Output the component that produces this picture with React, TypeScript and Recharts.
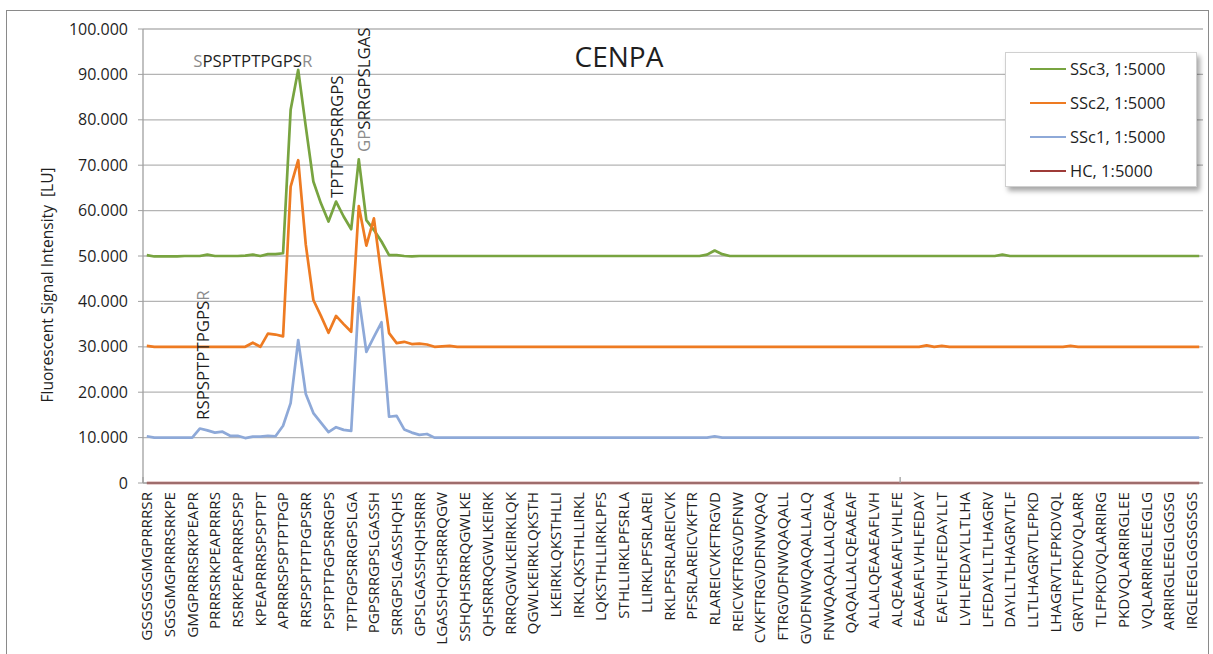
import React from "react";
import { LineChart, Line, XAxis, YAxis, CartesianGrid, ReferenceDot } from "recharts";

// Peptide labels shown on the x axis (every third peptide of the 140-peptide scan)
const TICK_LABELS = [
  "GSGSGSGMGPRRRSR", "SGSGMGPRRRSRKPE", "GMGPRRRSRKPEAPR", "PRRRSRKPEAPRRRS",
  "RSRKPEAPRRRSPSP", "KPEAPRRRSPSPTPT", "APRRRSPSPTPTPGP", "RRSPSPTPTPGPSRR",
  "PSPTPTPGPSRRGPS", "TPTPGPSRRGPSLGA", "PGPSRRGPSLGASSH", "SRRGPSLGASSHQHS",
  "GPSLGASSHQHSRRR", "LGASSHQHSRRRQGW", "SSHQHSRRRQGWLKE", "QHSRRRQGWLKEIRK",
  "RRRQGWLKEIRKLQK", "QGWLKEIRKLQKSTH", "LKEIRKLQKSTHLLI", "IRKLQKSTHLLIRKL",
  "LQKSTHLLIRKLPFS", "STHLLIRKLPFSRLA", "LLIRKLPFSRLAREI", "RKLPFSRLAREICVK",
  "PFSRLAREICVKFTR", "RLAREICVKFTRGVD", "REICVKFTRGVDFNW", "CVKFTRGVDFNWQAQ",
  "FTRGVDFNWQAQALL", "GVDFNWQAQALLALQ", "FNWQAQALLALQEAA", "QAQALLALQEAAEAF",
  "ALLALQEAAEAFLVH", "ALQEAAEAFLVHLFE", "EAAEAFLVHLFEDAY", "EAFLVHLFEDAYLLT",
  "LVHLFEDAYLLTLHA", "LFEDAYLLTLHAGRV", "DAYLLTLHAGRVTLF", "LLTLHAGRVTLFPKD",
  "LHAGRVTLFPKDVQL", "GRVTLFPKDVQLARR", "TLFPKDVQLARRIRG", "PKDVQLARRIRGLEE",
  "VQLARRIRGLEEGLG", "ARRIRGLEEGLGGSG", "IRGLEEGLGGSGSGS",
];

// Y-axis tick values (in thousands of LU; shown as "10.000" etc.)
const Y_TICKS = [0, 10, 20, 30, 40, 50, 60, 70, 80, 90, 100];

// Series values per peptide (140 peptides), in thousands of LU
const SSC3 = [
  50.2, 49.9, 49.9, 49.9, 49.9, 50.0, 50.0, 50.0, 50.3, 50.0,
  50.0, 50.0, 50.0, 50.1, 50.3, 50.0, 50.4, 50.4, 50.6, 82.2,
  91.0, 78.5, 66.4, 61.6, 57.6, 62.0, 58.7, 55.9, 71.3, 57.9,
  55.7, 53.2, 50.2, 50.2, 50.0, 49.9, 50.0, 50.0, 50.0, 50.0,
  50.0, 50.0, 50.0, 50.0, 50.0, 50.0, 50.0, 50.0, 50.0, 50.0,
  50.0, 50.0, 50.0, 50.0, 50.0, 50.0, 50.0, 50.0, 50.0, 50.0,
  50.0, 50.0, 50.0, 50.0, 50.0, 50.0, 50.0, 50.0, 50.0, 50.0,
  50.0, 50.0, 50.0, 50.0, 50.3, 51.2, 50.4, 50.0, 50.0, 50.0,
  50.0, 50.0, 50.0, 50.0, 50.0, 50.0, 50.0, 50.0, 50.0, 50.0,
  50.0, 50.0, 50.0, 50.0, 50.0, 50.0, 50.0, 50.0, 50.0, 50.0,
  50.0, 50.0, 50.0, 50.0, 50.0, 50.0, 50.0, 50.0, 50.0, 50.0,
  50.0, 50.0, 50.0, 50.3, 50.0, 50.0, 50.0, 50.0, 50.0, 50.0,
  50.0, 50.0, 50.0, 50.0, 50.0, 50.0, 50.0, 50.0, 50.0, 50.0,
  50.0, 50.0, 50.0, 50.0, 50.0, 50.0, 50.0, 50.0, 50.0, 50.0,
];

const SSC2 = [
  30.2, 30.0, 30.0, 30.0, 30.0, 30.0, 30.0, 30.0, 30.0, 30.0,
  30.0, 30.0, 30.0, 30.0, 30.9, 30.0, 32.9, 32.7, 32.3, 65.3,
  71.1, 52.5, 40.3, 36.8, 33.1, 36.8, 35.0, 33.3, 61.0, 52.3,
  58.3, 45.5, 33.0, 30.8, 31.1, 30.6, 30.7, 30.5, 30.0, 30.1,
  30.2, 30.0, 30.0, 30.0, 30.0, 30.0, 30.0, 30.0, 30.0, 30.0,
  30.0, 30.0, 30.0, 30.0, 30.0, 30.0, 30.0, 30.0, 30.0, 30.0,
  30.0, 30.0, 30.0, 30.0, 30.0, 30.0, 30.0, 30.0, 30.0, 30.0,
  30.0, 30.0, 30.0, 30.0, 30.0, 30.0, 30.0, 30.0, 30.0, 30.0,
  30.0, 30.0, 30.0, 30.0, 30.0, 30.0, 30.0, 30.0, 30.0, 30.0,
  30.0, 30.0, 30.0, 30.0, 30.0, 30.0, 30.0, 30.0, 30.0, 30.0,
  30.0, 30.0, 30.0, 30.3, 30.0, 30.2, 30.0, 30.0, 30.0, 30.0,
  30.0, 30.0, 30.0, 30.0, 30.0, 30.0, 30.0, 30.0, 30.0, 30.0,
  30.0, 30.0, 30.2, 30.0, 30.0, 30.0, 30.0, 30.0, 30.0, 30.0,
  30.0, 30.0, 30.0, 30.0, 30.0, 30.0, 30.0, 30.0, 30.0, 30.0,
];

const SSC1 = [
  10.3, 10.0, 10.0, 10.0, 10.0, 10.0, 10.0, 12.0, 11.6, 11.1,
  11.3, 10.4, 10.4, 9.9, 10.2, 10.2, 10.4, 10.3, 12.6, 17.6,
  31.5, 19.6, 15.4, 13.3, 11.2, 12.3, 11.7, 11.5, 40.9, 28.9,
  32.2, 35.4, 14.6, 14.8, 11.8, 11.1, 10.6, 10.8, 10.0, 10.0,
  10.0, 10.0, 10.0, 10.0, 10.0, 10.0, 10.0, 10.0, 10.0, 10.0,
  10.0, 10.0, 10.0, 10.0, 10.0, 10.0, 10.0, 10.0, 10.0, 10.0,
  10.0, 10.0, 10.0, 10.0, 10.0, 10.0, 10.0, 10.0, 10.0, 10.0,
  10.0, 10.0, 10.0, 10.0, 10.0, 10.3, 10.0, 10.0, 10.0, 10.0,
  10.0, 10.0, 10.0, 10.0, 10.0, 10.0, 10.0, 10.0, 10.0, 10.0,
  10.0, 10.0, 10.0, 10.0, 10.0, 10.0, 10.0, 10.0, 10.0, 10.0,
  10.0, 10.0, 10.0, 10.0, 10.0, 10.0, 10.0, 10.0, 10.0, 10.0,
  10.0, 10.0, 10.0, 10.0, 10.0, 10.0, 10.0, 10.0, 10.0, 10.0,
  10.0, 10.0, 10.0, 10.0, 10.0, 10.0, 10.0, 10.0, 10.0, 10.0,
  10.0, 10.0, 10.0, 10.0, 10.0, 10.0, 10.0, 10.0, 10.0, 10.0,
];

const HC = [
  0, 0, 0, 0, 0, 0, 0, 0, 0, 0,
  0, 0, 0, 0, 0, 0, 0, 0, 0, 0,
  0, 0, 0, 0, 0, 0, 0, 0, 0, 0,
  0, 0, 0, 0, 0, 0, 0, 0, 0, 0,
  0, 0, 0, 0, 0, 0, 0, 0, 0, 0,
  0, 0, 0, 0, 0, 0, 0, 0, 0, 0,
  0, 0, 0, 0, 0, 0, 0, 0, 0, 0,
  0, 0, 0, 0, 0, 0, 0, 0, 0, 0,
  0, 0, 0, 0, 0, 0, 0, 0, 0, 0,
  0, 0, 0, 0, 0, 0, 0, 0, 0, 0,
  0, 0, 0, 0, 0, 0, 0, 0, 0, 0,
  0, 0, 0, 0, 0, 0, 0, 0, 0, 0,
  0, 0, 0, 0, 0, 0, 0, 0, 0, 0,
  0, 0, 0, 0, 0, 0, 0, 0, 0, 0,
];

const SERIES = [
  { key: "ssc3", name: "SSc3, 1:5000", color: "#78A440", values: SSC3 },
  { key: "ssc2", name: "SSc2, 1:5000", color: "#EE7B22", values: SSC2 },
  { key: "ssc1", name: "SSc1, 1:5000", color: "#8EA9D8", values: SSC1 },
  { key: "hc", name: "HC, 1:5000", color: "#9E3B38", values: HC },
];

// Epitope annotations: text, grey prefix/suffix lengths, anchor (peptide index, value), orientation
const ANNOTATIONS = [
  { text: "SPSPTPTPGPSR", greyStart: 1, greyEnd: 1, x: 14, y: 91.6, vertical: false },
  { text: "RSPSPTPTPGPSR", greyStart: 0, greyEnd: 1, x: 7.4, y: 13.9, vertical: true },
  { text: "TPTPGPSRRGPS", greyStart: 0, greyEnd: 0, x: 25.1, y: 62.8, vertical: true },
  { text: "GPSRRGPSLGAS", greyStart: 2, greyEnd: 0, x: 28.7, y: 72.9, vertical: true },
];

// x-axis tick marks sit on category boundaries (Excel: every 100 categories)
const X_TICK_MARKS = [-0.5, 99.5];

const X_TICKS = TICK_LABELS.map((_, k) => k * 3);

const data = SSC3.map((_, i) => {
  const row: Record<string, number> = { idx: i };
  SERIES.forEach((s) => {
    row[s.key] = s.values[i];
  });
  return row;
});

const FONT = "'Open Sans', sans-serif";
const GREY = "#8C8C8C";
const TEXT = "#1F1F1F";

const XTick = (props: any) => {
  const { x, y, payload } = props;
  const label = TICK_LABELS[Math.round(payload.value / 3)] ?? "";
  return (
    <text
      x={x}
      y={y}
      transform={`rotate(-90 ${x} ${y})`}
      textAnchor="end"
      dy="0.35em"
      fontFamily={FONT}
      fontSize={15.2}
      fill={TEXT}
    >
      {label}
    </text>
  );
};

const annotationShape = (a: (typeof ANNOTATIONS)[number]) => (props: any) => {
  const { cx, cy } = props;
  const mid = a.text.slice(a.greyStart, a.text.length - a.greyEnd);
  const head = a.text.slice(0, a.greyStart);
  const tail = a.text.slice(a.text.length - a.greyEnd);
  const common = {
    fontFamily: FONT,
    fontSize: 16.8,
    fill: TEXT,
  };
  if (!a.vertical) {
    return (
      <text x={cx} y={cy} textAnchor="middle" {...common}>
        <tspan fill={GREY}>{head}</tspan>
        <tspan>{mid}</tspan>
        <tspan fill={GREY}>{tail}</tspan>
      </text>
    );
  }
  return (
    <text
      x={cx}
      y={cy}
      transform={`rotate(-90 ${cx} ${cy})`}
      textAnchor="start"
      dy="0.36em"
      {...common}
    >
      <tspan fill={GREY}>{head}</tspan>
      <tspan>{mid}</tspan>
      <tspan fill={GREY}>{tail}</tspan>
    </text>
  );
};

const tickMarkShape = (props: any) => {
  const { cx, cy } = props;
  return <line x1={cx} y1={cy} x2={cx} y2={cy - 6} stroke="#A0A0A0" strokeWidth={1.3} />;
};

export default function App() {
  return (
    <div style={{ position: "absolute", left: 0, top: 0, width: 1213, height: 654, background: "#fff", overflow: "hidden" }}>
      <div
        style={{
          position: "absolute",
          left: 6,
          top: 10,
          width: 1203,
          height: 700,
          border: "1px solid #8a8a8a",
          boxSizing: "border-box",
        }}
      />
      <LineChart
        width={1213}
        height={654}
        data={data}
        margin={{ top: 29, right: 10, bottom: 6, left: 0 }}
        style={{ position: "absolute", left: 0, top: 0 }}
      >
        <CartesianGrid vertical={false} stroke="#B4B4B4" strokeWidth={1.3} />
        <XAxis
          type="number"
          dataKey="idx"
          domain={[-0.5, 139.5]}
          ticks={X_TICKS}
          interval={0}
          height={165}
          tickLine={false}
          tickSize={6}
          tickMargin={3}
          axisLine={{ stroke: "#A0A0A0" }}
          tick={<XTick />}
        />
        <YAxis
          width={143}
          domain={[0, 100]}
          ticks={Y_TICKS}
          interval={0}
          tickFormatter={(v: number) => (v === 0 ? "0" : `${v}.000`)}
          tick={{ fontFamily: FONT, fontSize: 16, fill: TEXT }}
          tickLine={{ stroke: "#A0A0A0" }}
          tickSize={5}
          tickMargin={10}
          axisLine={{ stroke: "#A0A0A0", strokeWidth: 1.3 }}
        />
        {X_TICK_MARKS.map((t) => (
          <ReferenceDot key={`tm${t}`} x={t} y={0} r={1} ifOverflow="visible" shape={tickMarkShape} />
        ))}
        {SERIES.map((s) => (
          <Line
            key={s.key}
            type="linear"
            dataKey={s.key}
            name={s.name}
            stroke={s.color}
            strokeWidth={2.7}
            dot={false}
            activeDot={false}
            strokeLinejoin="round"
            isAnimationActive={false}
          />
        ))}
        {ANNOTATIONS.map((a) => (
          <ReferenceDot
            key={a.text}
            x={a.x}
            y={a.y}
            r={1}
            ifOverflow="visible"
            shape={annotationShape(a)}
          />
        ))}
      </LineChart>
      <svg
        width={1213}
        height={654}
        style={{ position: "absolute", left: 0, top: 0, pointerEvents: "none" }}
      >
        <text x={619} y={67} textAnchor="middle" fontFamily={FONT} fontSize={28} fill={TEXT}>
          CENPA
        </text>
        <text
          x={47}
          y={285}
          transform="rotate(-90 47 285)"
          textAnchor="middle"
          dy="0.36em"
          fontFamily={FONT}
          fontSize={15.5}
          fill={TEXT}
          style={{ whiteSpace: "pre" }}
        >
          {"Fluorescent Signal Intensity  [LU]"}
        </text>
      </svg>
      <div
        style={{
          position: "absolute",
          left: 1005,
          top: 52,
          width: 192,
          height: 135,
          background: "#fff",
          border: "1px solid #D0D0D0",
          boxSizing: "border-box",
          boxShadow: "3px 4px 5px rgba(0,0,0,0.35)",
          fontFamily: FONT,
          fontSize: 16.5,
          color: TEXT,
        }}
      >
        {SERIES.map((s, i) => (
          <div
            key={s.key}
            style={{
              position: "absolute",
              left: 0,
              top: 16 + i * 34 - 12,
              height: 24,
              display: "flex",
              alignItems: "center",
            }}
          >
            <div style={{ marginLeft: 24, width: 36, height: 2.6, background: s.color }} />
            <span style={{ marginLeft: 4, lineHeight: "24px", whiteSpace: "nowrap" }}>{s.name}</span>
          </div>
        ))}
      </div>
    </div>
  );
}
